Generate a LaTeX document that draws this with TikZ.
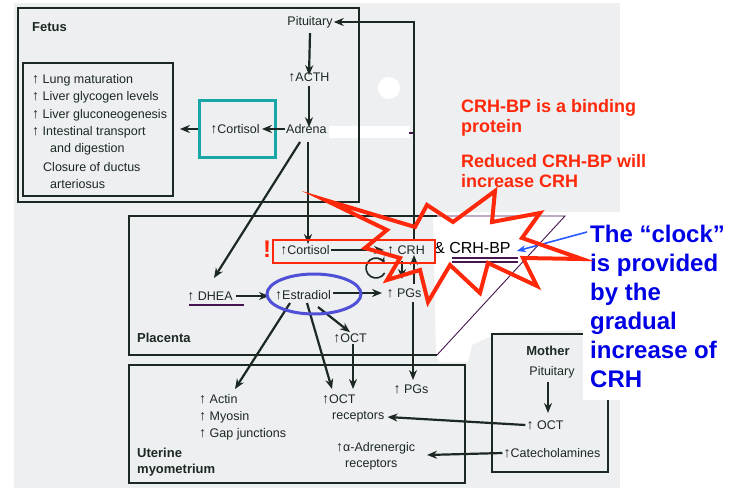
\documentclass[tikz,border=0pt]{standalone}
\usepackage{fontspec}
\setmainfont{Liberation Sans}
\usetikzlibrary{arrows.meta}
\definecolor{bg}{RGB}{237,239,240}
\definecolor{ink}{RGB}{28,40,36}
\definecolor{tealc}{RGB}{24,166,166}
\definecolor{redc}{RGB}{255,40,10}
\definecolor{bluec}{RGB}{80,80,215}
\definecolor{clockblue}{RGB}{0,0,230}
\definecolor{arrblue}{RGB}{40,90,255}
\definecolor{purp}{RGB}{70,20,80}
\newcommand{\upa}{{\fontsize{14}{14}\selectfont ↑}}
\begin{document}
\begin{tikzpicture}[x=1pt,y=-1pt,
 lbl/.style={font=\fontsize{12.5}{15}\selectfont, text=ink, inner sep=1pt},
 lw/.style={lbl, anchor=west},
 ttl/.style={font=\bfseries\fontsize{13}{15}\selectfont, text=ink, inner sep=1pt, anchor=west},
 arr/.style={draw=ink, line width=2.2pt, -{Stealth[length=10pt,width=8pt]}},
 frame/.style={draw=ink, line width=1.8pt},
 redtxt/.style={anchor=north west, align=left, text=redc, font=\bfseries\fontsize{18}{20}\selectfont, inner sep=0pt},
]
\useasboundingbox (0,0) rectangle (736,500);
\fill[white] (0,0) rectangle (736,500);
\fill[bg] (14,3) rectangle (620,488);
% white patches of the scan
\fill[white] (433,212) -- (585,212) -- (585,330) -- (500,332) -- (472,345) -- (468,362) -- (440,362) -- (436,356) -- cycle;
\fill[white] (389,88) circle (11);
\fill[white] (329,126) rectangle (410,138);
\draw[purp, line width=1.5pt] (409,133) -- (414,133);

% ---------- Fetus ----------
\draw[frame] (18,8) rectangle (359,202);
\node[ttl] (fetus) at (31,27) {Fetus};
\node[frame, minimum width=150pt, minimum height=133pt, inner sep=0pt] (effbox) at (98,129.5) {};
\node[lw] (e1) at (31,80) {\upa\ Lung maturation};
\node[lw] (e2) at (31,97.5) {\upa\ Liver glycogen levels};
\node[lw] (e3) at (31,115) {\upa\ Liver gluconeogenesis};
\node[lw] (e4) at (31,132) {\upa\ Intestinal transport};
\node[lw] (e5) at (49,149) {and digestion};
\node[lw] (e6) at (42,167) {Closure of ductus};
\node[lw] (e7) at (49,184) {arteriosus};

\node[draw=tealc, line width=3pt, minimum width=76pt, minimum height=56pt, inner sep=0pt] (tealbox) at (237,129) {};
\node[lbl] (cortF) at (235,129) {\upa Cortisol};
\node[lbl, anchor=west] (adrenal) at (285,129) {Adrena};
\node[lbl] (pit) at (310,22) {Pituitary};
\node[lbl] (acth) at (309,77) {\upa ACTH};

\draw[arr] (pit.south) ++(0,4) -- ([yshift=-4pt]acth.north);
\draw[arr] (acth.south) ++(0,3) -- ([yshift=-4pt]adrenal.north -| acth);
\draw[arr] (adrenal.west) -- ([xshift=1pt]cortF.east);
\draw[arr] (tealbox.west) -- ([xshift=6pt]effbox.east |- tealbox.west);

% ---------- Placenta ----------
\draw[frame] (437,216) -- (129,216) -- (129,355) -- (437,355);
\draw[purp, line width=0.9pt] (437,216) -- (565,216) -- (437,355);
\node[ttl] (placenta) at (136,338) {Placenta};

\node[lbl] (cortP) at (305,250) {\upa Cortisol};
\node[lbl] (crh) at (406,250) {\upa\ CRH};
\node[anchor=west, font=\fontsize{16}{18}\selectfont, inner sep=0pt, text=black] (crhbp) at (434,248) {\& CRH-BP};
\draw[purp, line width=1.6pt] (452,258) -- (518,258);
\draw[purp, line width=1.6pt] (452,262) -- (518,262);
\node[lbl] (dhea) at (210,296) {\upa\ DHEA};
\draw[purp, line width=1.4pt] (189,305) -- (244,305);
\node[lbl] (estr) at (303,295) {\upa Estradiol};
\node[lbl] (pgsP) at (404,293) {\upa\ PGs};
\node[lbl] (octP) at (350,338) {\upa OCT};

\coordinate (adrS) at (308,142);
\coordinate (adrD) at (300,142);
\draw[arr] (adrS) -- (adrS |- cortP.north);
\draw[arr] (adrD) -- (214,278);
\draw[arr] (cortP.east) -- (384,250);
\draw[arr] (dhea.east) ++(2,0) -- (269,296);
\draw[arr] (333,293) -- (382,293);
\draw[arr] (318,307) -- (octP.north);
\draw[arr] (402,261) -- (402,279);
\coordinate (crhup) at (414,239);
\draw[arr] (crhup) |- (pit.east);
\draw[arr] (414,284) -- (414,255);
\draw[line width=1.6pt, draw=ink, -{Stealth[length=6pt,width=6pt]}] (376,268) ++(30:10) arc[start angle=30, end angle=330, radius=10];

% ---------- Uterine ----------
\draw[frame] (129,365) rectangle (465,483);
\node[ttl] (uterine) at (136,453) {Uterine};
\node[ttl] (myo) at (136,470) {myometrium};
\node[lw] (actin) at (198,399) {\upa\ Actin};
\node[lw] (myosin) at (198,417) {\upa\ Myosin};
\node[lw] (gap) at (198,434) {\upa\ Gap junctions};
\node[lw] (octRa) at (321,399) {\upa OCT};
\node[lw] (octR) at (331,417) {receptors};
\node[lbl] (pgsU) at (411,389) {\upa\ PGs};
\node[lw] (alpha) at (335,448) {\upa α-Adrenergic};
\node[lw] (alphaR) at (344,465) {receptors};

\draw[arr] (290,303) -- (235,389);
\draw[arr] (307,303) -- (332,389);
\draw[arr] (octP.south -| 353,0) -- (353,389);
\draw[arr] (413,302) -- (413,380);

% ---------- Mother ----------
\draw[frame] (492,334) rectangle (608,472);
\node[lbl, font=\bfseries\fontsize{13}{15}\selectfont] (mother) at (548,351) {Mother};
\node[lbl] (mpit) at (552,372) {Pituitary};
\node[lbl] (moct) at (545,425) {\upa\ OCT};
\node[lbl] (cat) at (552,453) {\upa Catecholamines};
\draw[arr] (548,382) -- (548,413);
\draw[arr] (moct.west) -- ([xshift=2pt]octR.east);
\draw[arr] (cat.west) -- (427,455);

% ---------- overlays ----------
\fill[white] (583,212) rectangle (736,400);
\node[redtxt] (red1) at (461,99) {CRH-BP is a binding\\protein};
\node[redtxt] (red2) at (461,154) {Reduced CRH-BP will\\increase CRH};
\node[anchor=north west, align=left, text=clockblue, font=\bfseries\fontsize{24}{29}\selectfont, inner sep=0pt] (clock) at (590,225) {The “clock”\\is provided\\by the\\gradual\\increase of\\CRH};
\coordinate (clockS) at (587,232);
\draw[arrblue, line width=1.6pt, -{Stealth[length=9pt,width=7pt]}] (clockS) -- ([xshift=6pt,yshift=-3pt]crhbp.east);

\draw[redc, line width=4pt, line join=miter, miter limit=20]
 (325,200) -- (415,227) -- (427,205) -- (453,222) -- (495,191) -- (492,222) -- (540,213) -- (522,238) -- (582,259) -- (523,258) -- (537,286) -- (488,263) -- (480,293) -- (450,265) -- (428,302) -- (420,270) -- (387,280) -- (400,258) -- (365,248) -- (387,230) -- cycle;
\draw[redc, line width=2.8pt] (273,240) rectangle (435,263);
\draw[bluec, line width=3pt] (314,294) ellipse [x radius=47, y radius=20];
\node[text=redc, font=\bfseries\fontsize{24}{24}\selectfont, inner sep=0pt] (excl) at (267,249) {!};
\end{tikzpicture}
\end{document}
